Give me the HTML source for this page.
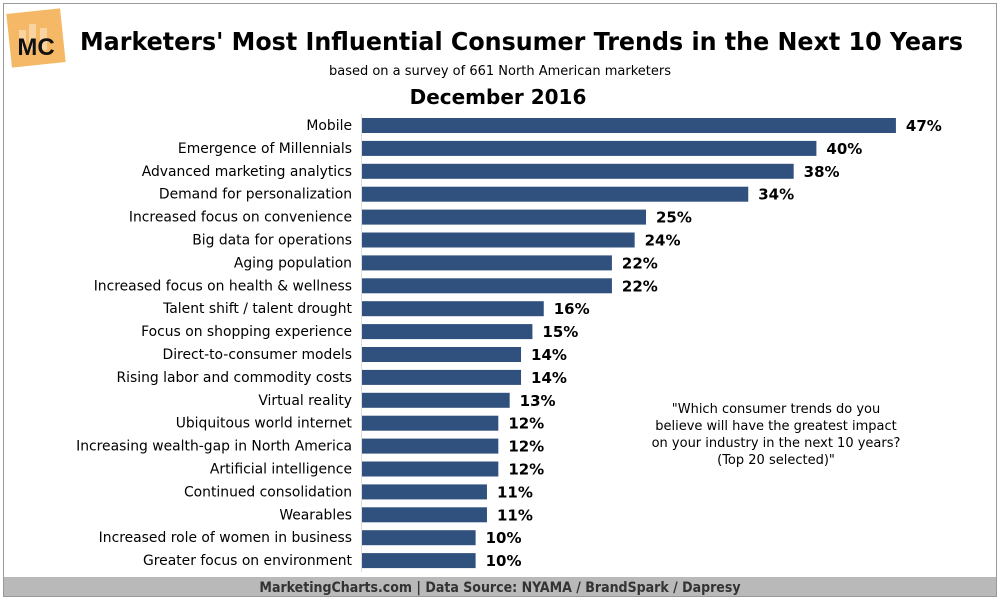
<!DOCTYPE html>
<html><head><meta charset="utf-8"><style>
body{margin:0;background:#fff;font-family:"Liberation Sans","DejaVu Sans",sans-serif}
#wrap{position:relative;width:1000px;height:600px;overflow:hidden}
</style></head><body>
<div id="wrap">
<svg id="chart" width="1000" height="600" viewBox="0 0 1000 600">
<rect x="3.5" y="3.5" width="993" height="593" fill="#fff" stroke="#999"/>
<g>
<rect x="9" y="11" width="54" height="54" fill="#f5b866" transform="rotate(-6 36 38)"/>
<rect x="19" y="30" width="7" height="20" fill="#f9d3a0"/><rect x="29" y="24" width="7" height="26" fill="#f9d3a0"/><rect x="40" y="28" width="7" height="22" fill="#f9d3a0"/>
<text x="36" y="55" text-anchor="middle" font-size="24" font-weight="bold" fill="#111" font-family="Liberation Sans, sans-serif">MC</text>
</g>
<text x="80" y="50" textLength="883" lengthAdjust="spacingAndGlyphs" font-size="25" font-weight="bold" fill="#000" font-family="DejaVu Sans, sans-serif">Marketers' Most Influential Consumer Trends in the Next 10 Years</text>
<text x="500" y="75" text-anchor="middle" font-size="13" fill="#000" font-family="DejaVu Sans, sans-serif">based on a survey of 661 North American marketers</text>
<text x="498" y="104" text-anchor="middle" font-size="20" font-weight="bold" fill="#000" font-family="DejaVu Sans, sans-serif">December 2016</text>
<g id="bars"></g>
<text text-anchor="middle" font-size="13" fill="#000" font-family="DejaVu Sans, sans-serif">
<tspan x="776" y="413">"Which consumer trends do you</tspan><tspan x="776" y="430">believe will have the greatest impact</tspan><tspan x="776" y="447">on your industry in the next 10 years?</tspan><tspan x="776" y="464">(Top 20 selected)"</tspan></text>
<rect x="4" y="577" width="992" height="19" fill="#b9b9b9"/>
<text x="500" y="592" text-anchor="middle" font-size="14" font-weight="bold" fill="#333" font-family="DejaVu Sans Condensed, DejaVu Sans, sans-serif">MarketingCharts.com | Data Source: NYAMA / BrandSpark / Dapresy</text>
</svg>
</div>
<script>
const categories=["Mobile","Emergence of Millennials","Advanced marketing analytics","Demand for personalization","Increased focus on convenience","Big data for operations","Aging population","Increased focus on health & wellness","Talent shift / talent drought","Focus on shopping experience","Direct-to-consumer models","Rising labor and commodity costs","Virtual reality","Ubiquitous world internet","Increasing wealth-gap in North America","Artificial intelligence","Continued consolidation","Wearables","Increased role of women in business","Greater focus on environment"];
const values=[47,40,38,34,25,24,22,22,16,15,14,14,13,12,12,12,11,11,10,10];
const x0=362, pxPer=11.36, y0=118, step=22.9, bh=15;
const xs=v=>x0+v*pxPer;
const ys=i=>y0+i*step;
const g=document.getElementById('bars');
const NS='http://www.w3.org/2000/svg';
const axis=document.createElementNS(NS,'line');
axis.setAttribute('x1',x0-0.5);axis.setAttribute('x2',x0-0.5);axis.setAttribute('y1',ys(0)-4);axis.setAttribute('y2',ys(categories.length-1)+bh+4);axis.setAttribute('stroke','#ddd');


g.appendChild(axis);
categories.forEach((c,i)=>{
  const y=ys(i);
  const r=document.createElementNS(NS,'rect');
  r.setAttribute('x',x0);r.setAttribute('y',y);r.setAttribute('width',xs(values[i])-x0);r.setAttribute('height',bh);r.setAttribute('fill','#30507d');
  
  
  g.appendChild(r);
  const t=document.createElementNS(NS,'text');
  t.setAttribute('x',352);t.setAttribute('y',y+12);t.setAttribute('text-anchor','end');t.setAttribute('font-size','13.9');t.setAttribute('font-family','DejaVu Sans, sans-serif');
  t.textContent=c;
  
  
  g.appendChild(t);
  const v=document.createElementNS(NS,'text');
  v.setAttribute('x',xs(values[i])+10);v.setAttribute('y',y+13);v.setAttribute('font-size','15');v.setAttribute('font-weight','bold');v.setAttribute('font-family','DejaVu Sans, sans-serif');
  v.textContent=values[i]+'%';
  
  
  g.appendChild(v);
});
</script>
</body></html>
